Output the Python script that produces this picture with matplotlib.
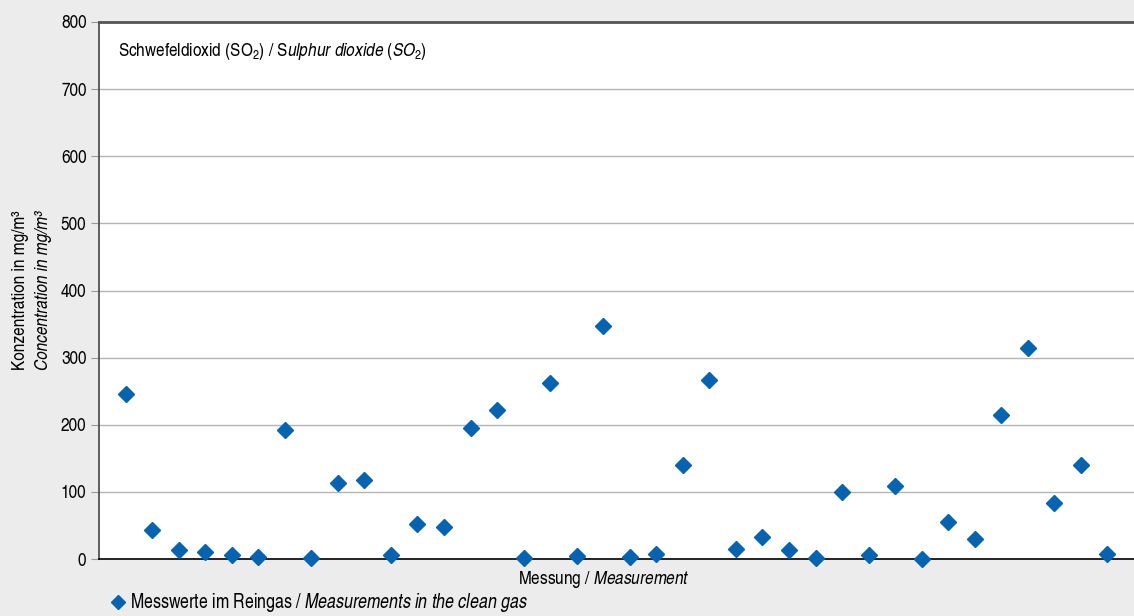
import matplotlib
matplotlib.use("Agg")
import matplotlib.pyplot as plt
from matplotlib import font_manager

names = {f.name for f in font_manager.fontManager.ttflist}
fam = "TeX Gyre Heros Cn" if "TeX Gyre Heros Cn" in names else "Liberation Sans"

plt.rcParams['font.family'] = [fam, 'DejaVu Sans']
plt.rcParams['mathtext.fontset'] = 'custom'
plt.rcParams['mathtext.rm'] = fam
plt.rcParams['mathtext.it'] = fam + ':italic'

# measured SO2 values in the clean gas (mg/m3)
measurement = list(range(1, 39))
so2 = [246, 43, 13, 10, 6, 3, 192, 1, 113, 118, 6, 52, 48, 195, 222, 1, 262, 4, 347, 3,
       7, 140, 267, 15, 33, 13, 1, 100, 6, 109, 0, 55, 30, 215, 314, 83, 140, 7]
yticks = [0, 100, 200, 300, 400, 500, 600, 700, 800]

bg = '#ebeceb'
blue = '#0563af'

fig = plt.figure(figsize=(11.34, 6.16), dpi=100, facecolor=bg)
ax = fig.add_axes([99 / 1134, 1 - 559 / 616, 1 - 99 / 1134, (559 - 22) / 616])
ax.set_facecolor('white')

ax.plot(measurement, so2, linestyle='none', marker='D', markersize=8,
        color=blue, clip_on=False, zorder=3)

ax.set_xlim(0, 39)
ax.set_ylim(0, 800)
ax.set_yticks(yticks)
ax.set_xticks([])
ax.grid(axis='y', color='#b4b4b4', linewidth=1)
ax.set_axisbelow(True)

ax.spines['right'].set_visible(False)
ax.spines['top'].set_color('#555555')
ax.spines['top'].set_linewidth(2)
ax.spines['left'].set_color('#444444')
ax.spines['left'].set_linewidth(1.2)
ax.spines['bottom'].set_color('black')
ax.spines['bottom'].set_linewidth(1.2)
ax.tick_params(axis='y', length=6, color='#999999', labelsize=13.5, pad=3)

ax.text(0.018, 0.965, r'Schwefeldioxid (SO$_\mathregular{2}$) / S$\it{ulphur\ dioxide\ (SO_2)}$',
        transform=ax.transAxes, fontsize=13.5, va='top', ha='left')

fig.text(12 / 1134, 1 - 290 / 616, 'Konzentration in mg/m³', rotation=90,
         fontsize=13.5, ha='left', va='center')
fig.text(35 / 1134, 1 - 290 / 616, 'Concentration in mg/m³', rotation=90,
         fontsize=13.5, style='italic', ha='left', va='center')

fig.text(604 / 1134, 1 - 580 / 616, r'Messung / $\it{Measurement}$',
         fontsize=13.5, ha='center', va='center')

ax.legend([ax.lines[0]], [r'Messwerte im Reingas / $\it{Measurements\ in\ the\ clean\ gas}$'],
          loc='center left', bbox_to_anchor=(101 / 1134, 1 - 603 / 616),
          bbox_transform=fig.transFigure, frameon=False, fontsize=14,
          handlelength=0.7, handletextpad=0.3, markerscale=0.9, borderpad=0)

fig.savefig('out.png', dpi=100, facecolor=bg)
